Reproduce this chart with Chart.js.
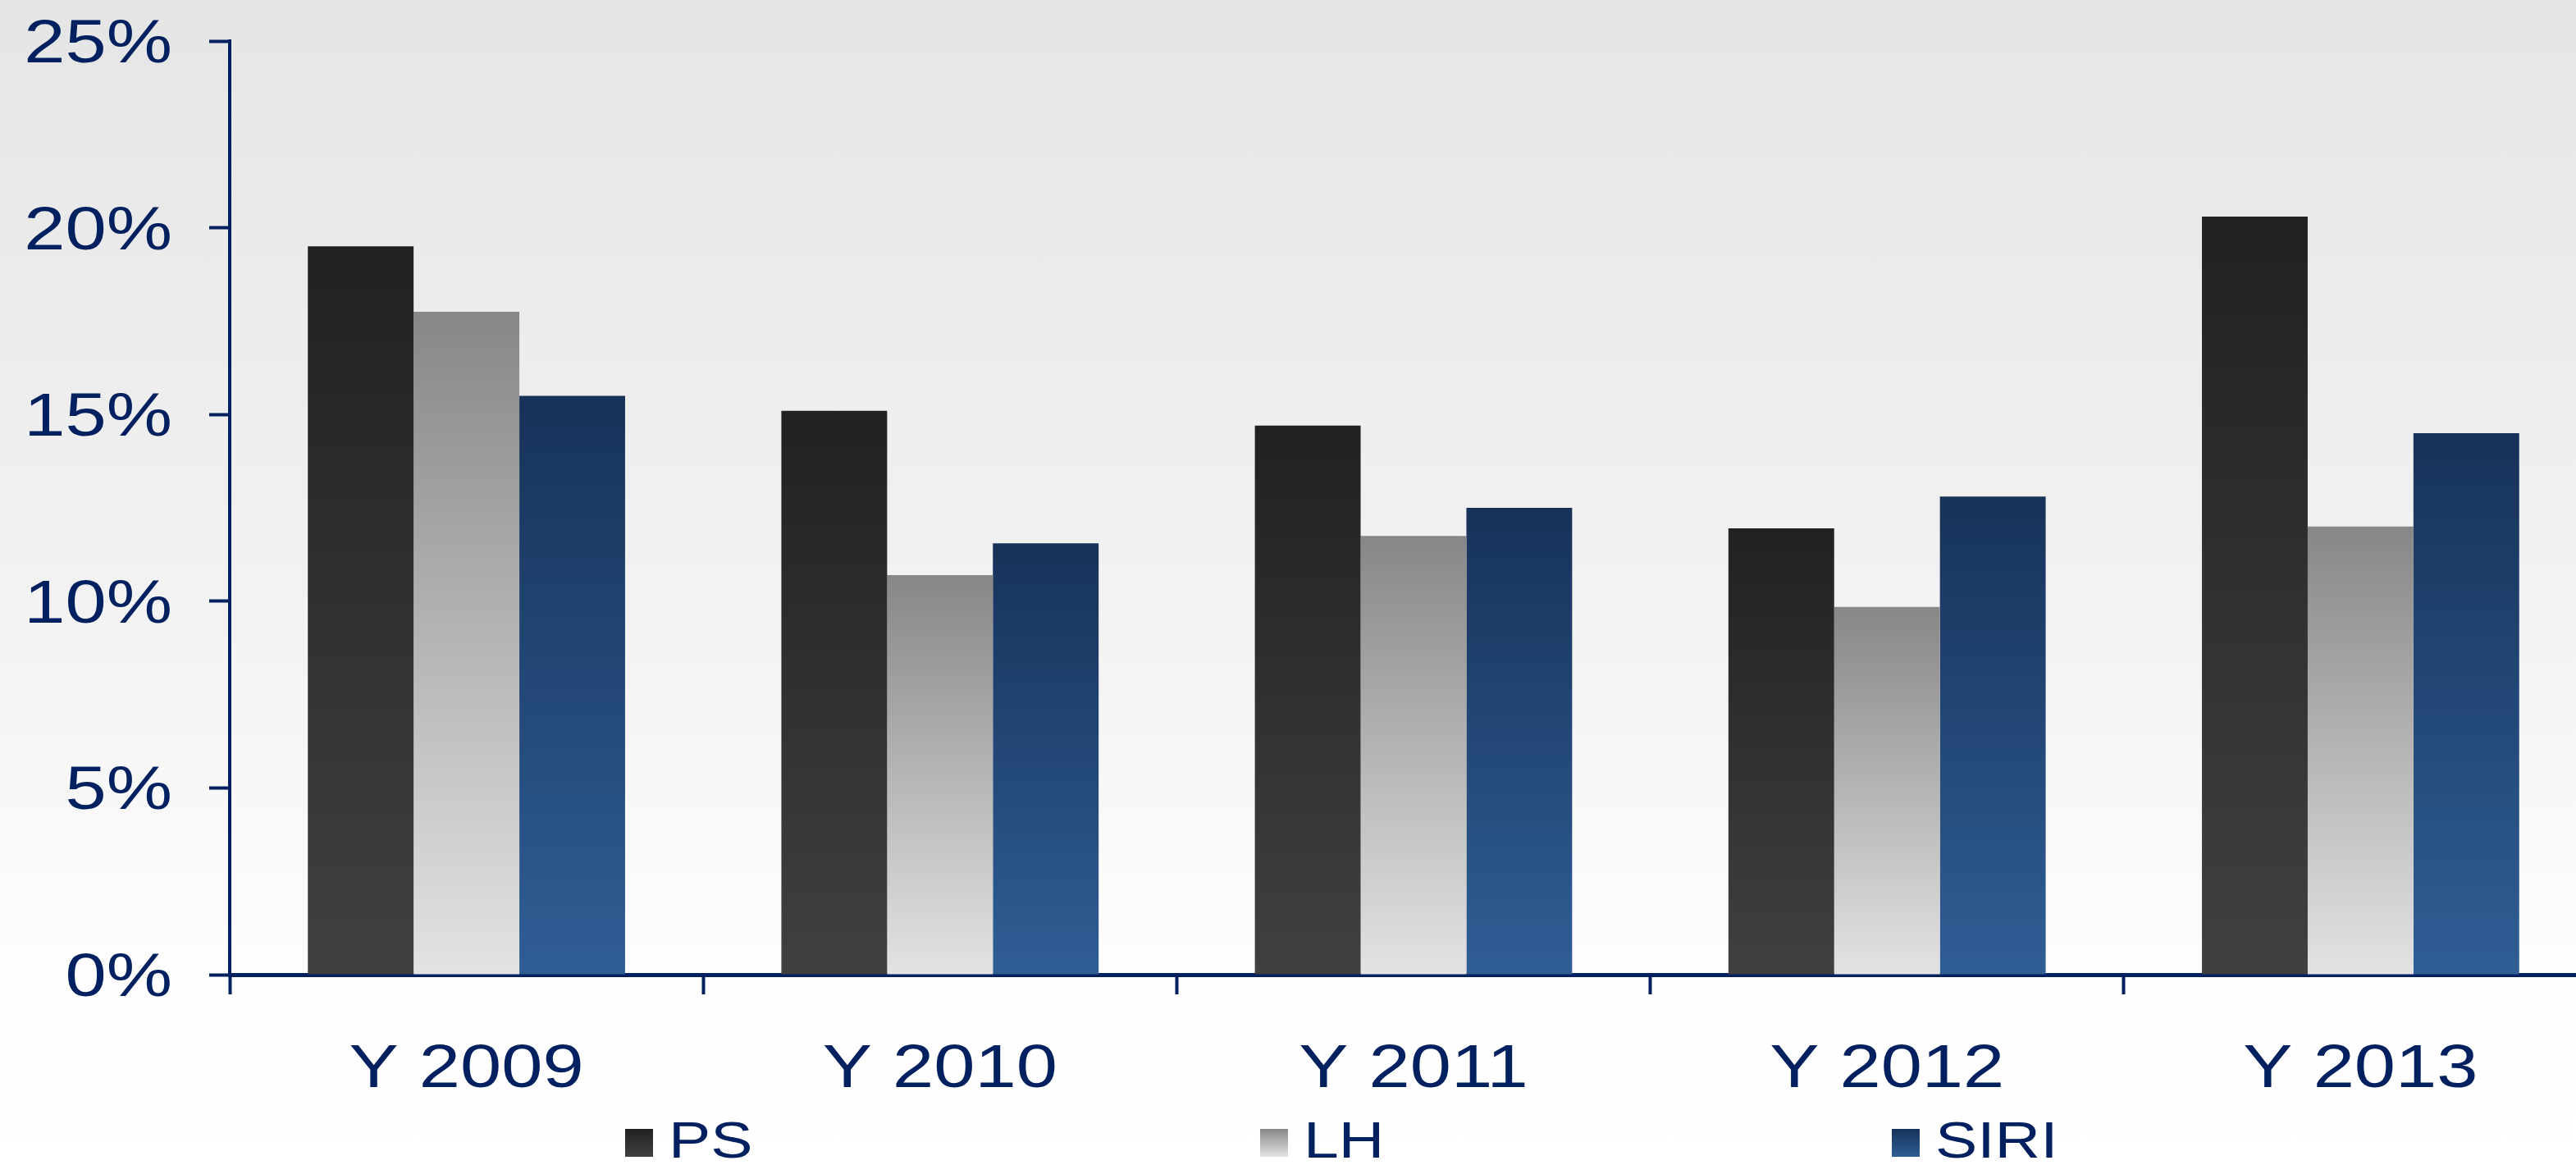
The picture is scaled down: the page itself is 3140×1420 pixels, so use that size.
<!DOCTYPE html>
<html>
<head>
    <title>PS / LH / SIRI</title>
    <script src="https://cdn.jsdelivr.net/npm/chart.js"></script>
    <style>
        html, body { margin: 0; padding: 0; overflow: hidden; }
        body {
            width: 3140px; height: 1420px;
            background: linear-gradient(to bottom, #e5e5e5 0%, #f3f3f3 55%, #fefefe 85%, #ffffff 100%);
        }
        canvas { display: block; }
    </style>
</head>
<body>
    <canvas id="chart" width="3170" height="1420"></canvas>

    <script>
        // values in percent
        const categories = ['Y 2009', 'Y 2010', 'Y 2011', 'Y 2012', 'Y 2013'];
        const seriesNames = ['PS', 'LH', 'SIRI'];
        const psValues = [19.5, 15.1, 14.7, 11.95, 20.3];
        const lhValues = [17.75, 10.7, 11.75, 9.85, 12.0];
        const siriValues = [15.5, 11.55, 12.5, 12.8, 14.5];
        const yTickValues = [0, 5, 10, 15, 20, 25];

        const NAVY = '#002060';
        const FONT = '"Liberation Sans", Arial, sans-serif';
        const STRETCH = 1.22;

        const barStops = [
            ['#212121', '#404040'],
            ['#878787', '#e3e3e3'],
            ['#173259', '#2f5e95']
        ];

        // vertical gradient running from the top of each bar down to the baseline
        function barGradient(stops) {
            return (c) => {
                const chart = c.chart;
                if (!chart.chartArea || c.type !== 'data') return stops[1];
                const y = chart.scales.y;
                const top = y.getPixelForValue(c.raw);
                const base = y.getPixelForValue(0);
                const g = chart.ctx.createLinearGradient(0, top, 0, base);
                g.addColorStop(0, stops[0]);
                g.addColorStop(1, stops[1]);
                return g;
            };
        }

        // wide sans text: draw Arial-like glyphs scaled horizontally
        function wideText(ctx, str, x, y, align, size) {
            ctx.save();
            ctx.font = size + 'px ' + FONT;
            ctx.fillStyle = NAVY;
            ctx.textAlign = 'left';
            ctx.textBaseline = 'alphabetic';
            const w = ctx.measureText(str).width * STRETCH;
            const left = align === 'right' ? x - w : align === 'center' ? x - w / 2 : x;
            ctx.translate(left, y);
            ctx.scale(STRETCH, 1);
            ctx.fillText(str, 0, 0);
            ctx.restore();
        }

        const labelsPlugin = {
            id: 'wideLabels',
            afterDraw(chart) {
                const ctx = chart.ctx;
                const ys = chart.scales.y;
                const xs = chart.scales.x;

                // y tick labels
                ys.ticks.forEach(t => {
                    const py = ys.getPixelForValue(t.value);
                    wideText(ctx, t.value + '%', 210, py + 26, 'right', 74);
                });

                // category labels
                categories.forEach((cat, i) => {
                    wideText(ctx, cat, xs.getPixelForValue(i), 1325, 'center', 74);
                });

                // legend
                const legendX = [762, 1536, 2306];
                seriesNames.forEach((name, i) => {
                    const x = legendX[i];
                    const g = ctx.createLinearGradient(0, 1376, 0, 1410);
                    g.addColorStop(0, barStops[i][0]);
                    g.addColorStop(1, barStops[i][1]);
                    ctx.fillStyle = g;
                    ctx.fillRect(x, 1376, 34, 34);
                    wideText(ctx, name, x + 53, 1411, 'left', 63);
                });
            }
        };

        const chart = new Chart(document.getElementById('chart'), {
            type: 'bar',
            data: {
                labels: categories,
                datasets: [
                    { label: seriesNames[0], data: psValues, backgroundColor: barGradient(barStops[0]) },
                    { label: seriesNames[1], data: lhValues, backgroundColor: barGradient(barStops[1]) },
                    { label: seriesNames[2], data: siriValues, backgroundColor: barGradient(barStops[2]) }
                ]
            },
            options: {
                responsive: false,
                animation: false,
                layout: { padding: { left: 255, right: 4, top: 50, bottom: 208 } },
                datasets: {
                    bar: { barPercentage: 1, categoryPercentage: 0.67, borderWidth: 0 }
                },
                plugins: {
                    legend: { display: false },
                    tooltip: { enabled: false }
                },
                scales: {
                    x: {
                        grid: {
                            offset: true,
                            drawOnChartArea: false,
                            drawTicks: true,
                            tickLength: 24,
                            tickWidth: 4,
                            tickColor: NAVY
                        },
                        border: { display: true, color: NAVY, width: 5 },
                        ticks: { display: false }
                    },
                    y: {
                        min: 0,
                        max: 25,
                        afterBuildTicks: (axis) => {
                            axis.ticks = yTickValues.map(v => ({ value: v }));
                        },
                        grid: {
                            drawOnChartArea: false,
                            drawTicks: true,
                            tickLength: 25,
                            tickWidth: 4,
                            tickColor: NAVY
                        },
                        border: { display: true, color: NAVY, width: 4 },
                        ticks: { display: false }
                    }
                }
            },
            plugins: [labelsPlugin]
        });
    </script>
</body>
</html>
